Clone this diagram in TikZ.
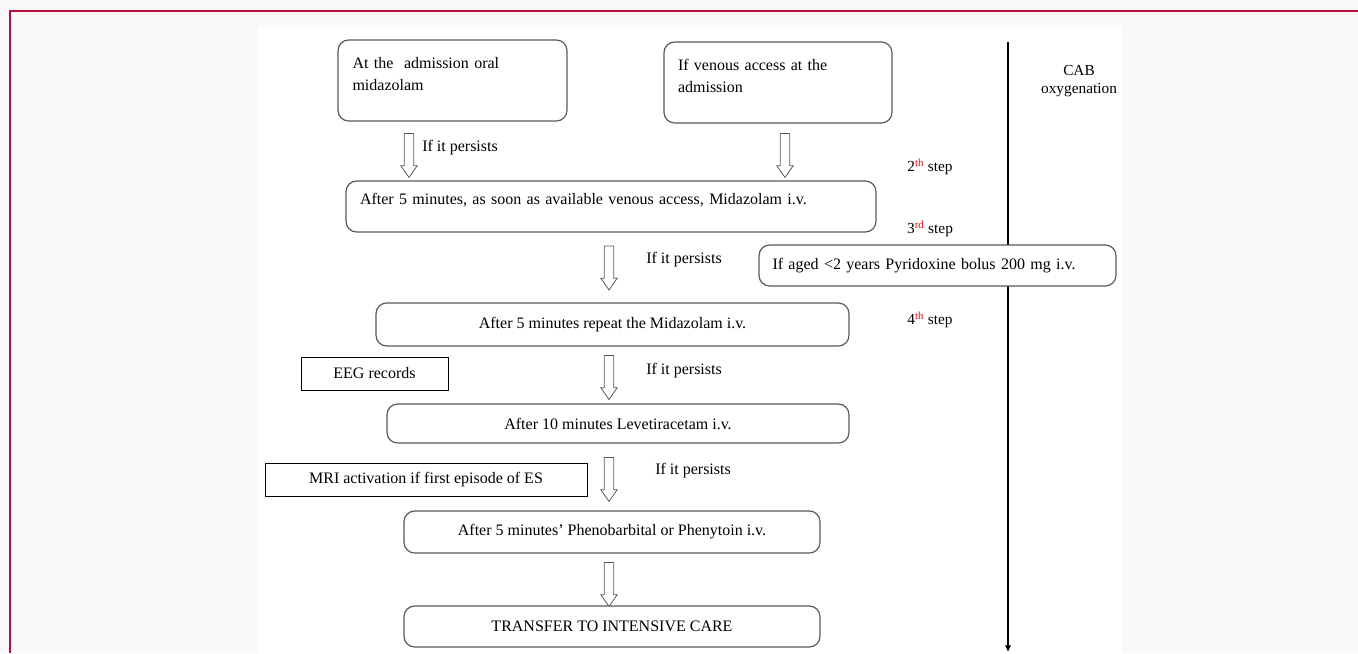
\documentclass[tikz,border=0pt]{standalone}
\usepackage{fontspec}
\setmainfont{Liberation Serif}
\usepackage{xcolor}
\usetikzlibrary{shapes.arrows,arrows.meta}

\definecolor{pagebg}{HTML}{FAF8F9}
\definecolor{frame}{HTML}{B5123E}
\definecolor{boxline}{HTML}{5A5A5A}

\begin{document}
\begin{tikzpicture}[x=0.75pt,y=-0.75pt,font=\fontsize{12}{17}\selectfont]
	\tikzset{
		rbox/.style = {draw=boxline, line width=0.9pt, rounded corners=8pt, fill=white, inner sep=0pt},
		sbox/.style = {draw=black, line width=0.7pt, fill=white, inner sep=0pt},
		hollow/.style = {single arrow, draw=boxline, line width=0.6pt, fill=white, shape border rotate=270,
			minimum height=33pt, minimum width=12pt, inner sep=3.3pt, single arrow head extend=2.5pt,
			single arrow tip angle=70},
		note/.style = {inner sep=0pt, anchor=west},
		stepnote/.style = {inner sep=0pt, font=\fontsize{11.5}{14}\selectfont}
	}
	% page and frame
	\useasboundingbox (0,0) rectangle (1358,653);
	\fill[pagebg] (0,0) rectangle (1358,653);
	\fill[white] (258,27) rectangle (1122,653);
	\draw[frame, line width=0.9pt] (10,653) -- (10,11) -- (1358,11);

	% time line on the right
	\coordinate (cabtop) at (1008,42);
	\coordinate (cabend) at (1008,652);
	\draw[line width=0.9pt, -{Latex[length=5pt,width=5pt]}] (cabtop) -- (cabend);
	\node[stepnote, align=center] (cab) at (1079,81) {CAB\\oxygenation};

	% first line of boxes
	\node[rbox, minimum width=229*0.75pt, minimum height=81*0.75pt, text width=200*0.75pt, align=left]
		(oral) at (452.5,80.5) {At the\ \ admission oral\\midazolam\\[-7pt]\mbox{}};
	\node[rbox, minimum width=228*0.75pt, minimum height=81*0.75pt, text width=200*0.75pt, align=left]
		(venous) at (778,82.5) {If venous access at the\\admission\\[-7pt]\mbox{}};

	\node[hollow] (arr1) at (409,152) {};
	\node[hollow] (arr2) at (785,152) {};
	\node[note] (pers1) at (422,148) {If it persists};

	\node[stepnote] (step2) at (930,167) {2\textsuperscript{\textcolor{red}{th}} step};
	\node[stepnote] (step3) at (930,229) {3\textsuperscript{\textcolor{red}{rd}} step};
	\node[stepnote] (step4) at (930,320) {4\textsuperscript{\textcolor{red}{th}} step};

	\node[rbox, minimum width=530*0.75pt, minimum height=51*0.75pt, text width=502*0.75pt, align=left]
		(midaz) at (611,206.5) {After 5 minutes, as soon as available venous access, Midazolam i.v.\\[-6pt]\mbox{}};

	\node[hollow] (arr3) at (609,264.5) {};
	\node[note] (pers2) at (646,260) {If it persists};
	\node[rbox, minimum width=357*0.75pt, minimum height=41*0.75pt, text width=330*0.75pt, align=left]
		(pyrid) at (937.5,265.5) {If aged <2 years Pyridoxine bolus 200 mg i.v.};

	\node[rbox, minimum width=473*0.75pt, minimum height=43*0.75pt] (repeat) at (612.5,324.5)
		{After 5 minutes repeat the Midazolam i.v.};

	\node[sbox, minimum width=147*0.75pt, minimum height=33*0.75pt] (eeg) at (374.5,373.5) {EEG records};
	\node[hollow] (arr4) at (609,374) {};
	\node[note] (pers3) at (646,371) {If it persists};

	\node[rbox, minimum width=462*0.75pt, minimum height=39*0.75pt] (levet) at (618,423.5)
		{After 10 minutes Levetiracetam i.v.};

	\node[sbox, minimum width=322*0.75pt, minimum height=33*0.75pt] (mri) at (426,479.5)
		{MRI activation if first episode of ES};
	\node[hollow] (arr5) at (609,476) {};
	\node[note] (pers4) at (655,471) {If it persists};

	\node[rbox, minimum width=416*0.75pt, minimum height=42*0.75pt] (pheno) at (612,532)
		{After 5 minutes' Phenobarbital or Phenytoin i.v.\\[-4pt]\mbox{}};

	\node[hollow] (arr6) at (609,581) {};

	\node[rbox, minimum width=416*0.75pt, minimum height=41*0.75pt] (icu) at (612,626.5)
		{TRANSFER TO INTENSIVE CARE\\[-4pt]\mbox{}};
\end{tikzpicture}
\end{document}
